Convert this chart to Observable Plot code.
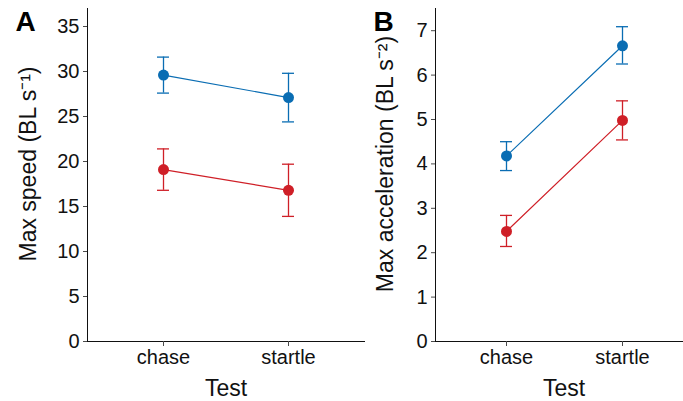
<!DOCTYPE html>
<html>
<head>
<meta charset="utf-8">
<script src="https://cdn.jsdelivr.net/npm/d3@7"></script>
<script src="https://cdn.jsdelivr.net/npm/@observablehq/plot@0.6"></script>
<style>
  body { margin: 0; background: #fff; }
  #row { display: flex; width: 683px; height: 401px; overflow: hidden; }
  svg { overflow: hidden; }
  svg g[aria-label*="axis"]:not([aria-label*="label"]),
  svg g[aria-label="frame"] { stroke: #4a4a4a; }
</style>
</head>
<body>
<div id="row"></div>
<script>
// ---- data ----
const tests = ["chase", "startle"];
const groups = ["Group 1", "Group 2"];
const groupColors = ["#0a6db3", "#cf1f27"];

// Panel A: max speed (BL s^-1)
const speedG1 = [29.6, 27.1];
const speedG1Lo = [27.6, 24.4];
const speedG1Hi = [31.6, 29.8];
const speedG2 = [19.1, 16.8];
const speedG2Lo = [16.8, 13.9];
const speedG2Hi = [21.4, 19.7];
const speedTicks = [0, 5, 10, 15, 20, 25, 30, 35];

// Panel B: max acceleration (BL s^-2)
const accG1 = [4.18, 6.66];
const accG1Lo = [3.85, 6.25];
const accG1Hi = [4.50, 7.09];
const accG2 = [2.48, 4.98];
const accG2Lo = [2.14, 4.54];
const accG2Hi = [2.84, 5.42];
const accTicks = [0, 1, 2, 3, 4, 5, 6, 7];

function rows(m1, lo1, hi1, m2, lo2, hi2) {
  const out = [];
  tests.forEach((t, i) => {
    out.push({test: t, group: groups[0], mean: m1[i], lo: lo1[i], hi: hi1[i]});
    out.push({test: t, group: groups[1], mean: m2[i], lo: lo2[i], hi: hi2[i]});
  });
  return out;
}

const speedRows = rows(speedG1, speedG1Lo, speedG1Hi, speedG2, speedG2Lo, speedG2Hi);
const accRows = rows(accG1, accG1Lo, accG1Hi, accG2, accG2Lo, accG2Hi);

function panel({data, yMax, ticks, yTitle, letter, width, marginLeft, marginRight, titleDx, letterDx}) {
  return Plot.plot({
    width, height: 401,
    marginLeft, marginRight, marginTop: 8, marginBottom: 60,
    style: {fontFamily: "'Liberation Sans', Arial, sans-serif", fontSize: "20px", color: "#111", background: "#fff"},
    x: {type: "band", domain: tests, paddingInner: 0.9, paddingOuter: 0.55, label: null,
        tickSize: 5, tickPadding: 3, line: true},
    y: {domain: [0, yMax], ticks, label: null, tickSize: 4, tickPadding: 4, line: true},
    color: {domain: groups, range: groupColors},
    marks: [
      Plot.ruleX(data, {x: "test", y1: "lo", y2: "hi", stroke: "group", strokeWidth: 1.3}),
      Plot.tickY(data, {x: "test", y: "lo", stroke: "group", strokeWidth: 1.3}),
      Plot.tickY(data, {x: "test", y: "hi", stroke: "group", strokeWidth: 1.3}),
      Plot.line(data, {x: "test", y: "mean", z: "group", stroke: "group", strokeWidth: 1.2}),
      Plot.dot(data, {x: "test", y: "mean", fill: "group", r: 5.5}),
      Plot.text([yTitle], {frameAnchor: "left", textAnchor: "middle", lineAnchor: "middle",
        dx: titleDx, dy: -11, rotate: -90, fontSize: 23, fill: "#111"}),
      Plot.text(["Test"], {frameAnchor: "bottom", textAnchor: "middle", lineAnchor: "middle",
        dy: 47, fontSize: 23, fill: "#111"}),
      Plot.text([letter], {frameAnchor: "top-left", textAnchor: "middle", lineAnchor: "middle",
        dx: letterDx, dy: 14, fontSize: 28, fontWeight: "bold", fill: "#000"})
    ]
  });
}

const row = document.getElementById("row");
row.append(panel({
  data: speedRows, yMax: 37, ticks: speedTicks,
  yTitle: "Max speed (BL s⁻¹)", letter: "A",
  width: 370, marginLeft: 87, marginRight: 6, titleDx: -59, letterDx: -62
}));
row.append(panel({
  data: accRows, yMax: 7.5, ticks: accTicks,
  yTitle: "Max acceleration (BL s⁻²)", letter: "B",
  width: 313, marginLeft: 65, marginRight: -9, titleDx: -50, letterDx: -52
}));
</script>
</body>
</html>
